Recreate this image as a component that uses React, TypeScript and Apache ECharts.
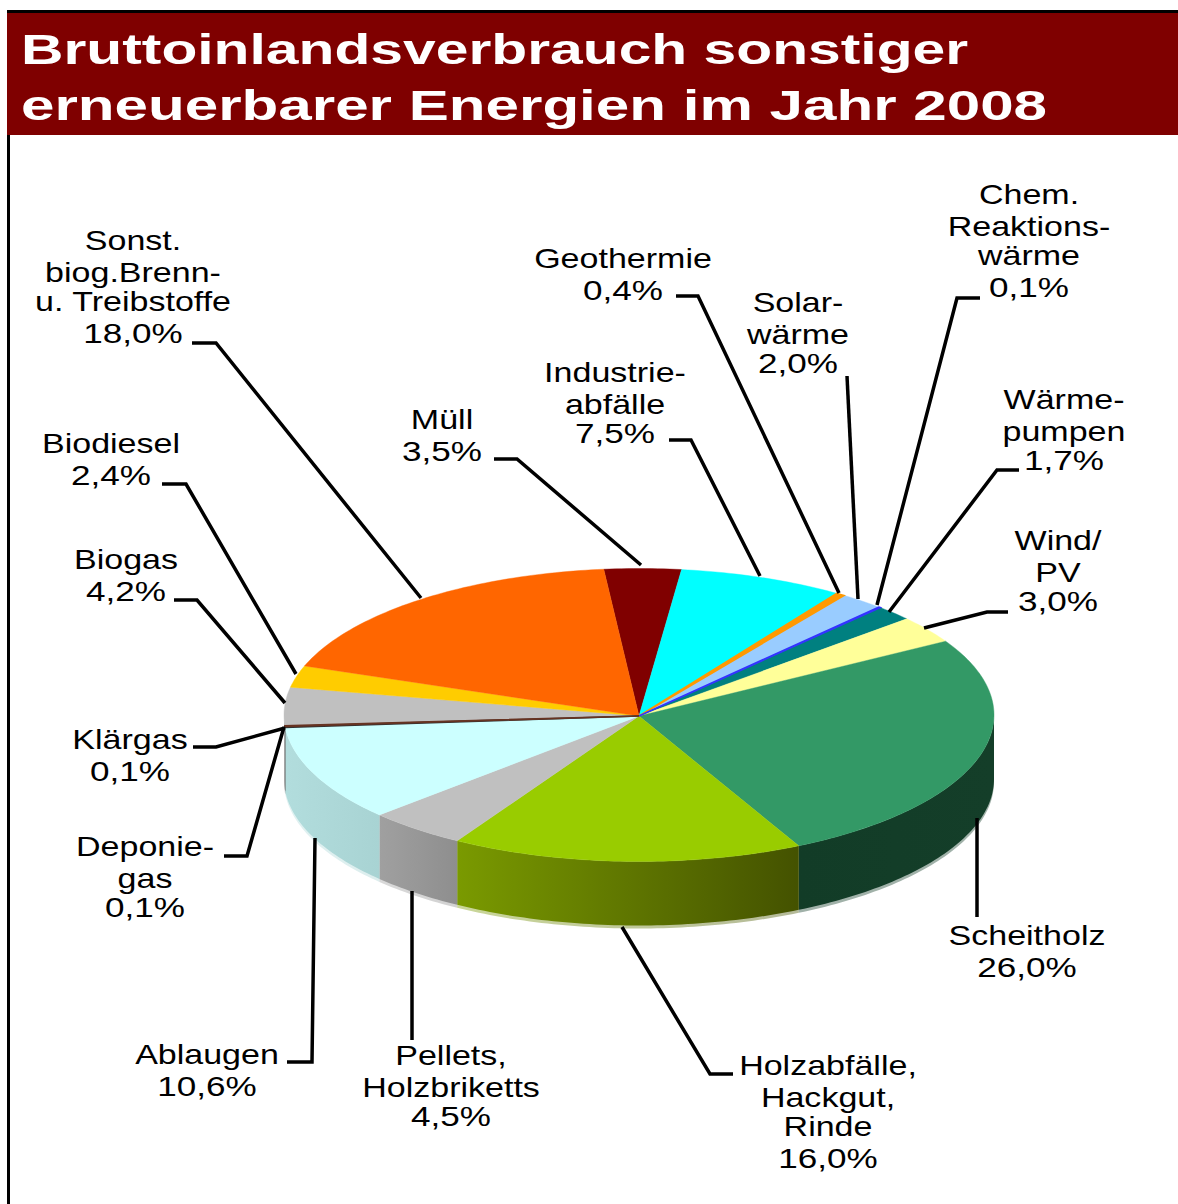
import React, { useEffect, useRef } from "react";
import * as echarts from "echarts";

const titleLines = ["Bruttoinlandsverbrauch sonstiger", "erneuerbarer Energien im Jahr 2008"];
const categories = [
  "Müll",
  "Industrie-\nabfälle",
  "Geothermie",
  "Solar-\nwärme",
  "Chem.\nReaktions-\nwärme",
  "Wärme-\npumpen",
  "Wind/\nPV",
  "Scheitholz",
  "Holzabfälle,\nHackgut,\nRinde",
  "Pellets,\nHolzbriketts",
  "Ablaugen",
  "Deponie-\ngas",
  "Klärgas",
  "Biogas",
  "Biodiesel",
  "Sonst.\nbiog.Brenn-\nu. Treibstoffe",
];
const shares = [3.5, 7.5, 0.4, 2.0, 0.1, 1.7, 3.0, 26.0, 16.0, 4.5, 10.6, 0.1, 0.1, 4.2, 2.4, 18.0];
const topColors = [
  "#800000", "#00ffff", "#ff9900", "#99ccff", "#3333ff", "#008080", "#ffff99", "#339966",
  "#99cc00", "#c0c0c0", "#ccffff", "#333333", "#663322", "#c0c0c0", "#ffcc00", "#ff6600",
];
// side wall colours, left end then right end
const sideColors: [string, string][] = [
  ["#400000", "#400000"], ["#008080", "#008080"], ["#805000", "#805000"], ["#4d6680", "#4d6680"],
  ["#1a1a80", "#1a1a80"], ["#004040", "#004040"], ["#80804d", "#80804d"], ["#123c27", "#143e29"],
  ["#7a9a00", "#445200"], ["#a0a0a0", "#8e8e8e"], ["#b2dddd", "#a8d3d3"], ["#1a1a1a", "#1a1a1a"],
  ["#331a11", "#331a11"], ["#a0a0a0", "#a0a0a0"], ["#806600", "#806600"], ["#803300", "#803300"],
];
// label anchor (centre x, first line y) and leader polyline for each category
const labelAnchors: [number, number][] = [
  [442, 420], [615, 373], [623, 259], [798, 303], [1029, 195], [1064, 400], [1058, 541], [1027, 936],
  [828, 1066], [451, 1056], [207, 1055], [145, 847], [130, 740], [126, 560], [111, 444], [133, 241],
];
const leaders: number[][][] = [
  [[494, 459], [517, 459], [641, 565]],
  [[669, 440], [691, 440], [760, 576]],
  [[676, 296], [698, 296], [839, 593]],
  [[847, 376], [858, 599]],
  [[980, 298], [957, 298], [877, 605]],
  [[1019, 470], [997, 470], [889, 612]],
  [[1008, 612], [987, 612], [924, 628]],
  [[977, 818], [977, 917]],
  [[622, 927], [710, 1074], [733, 1074]],
  [[412, 891], [412, 1040]],
  [[287, 1062], [312, 1062], [315, 838]],
  [[224, 856], [247, 856], [284, 727]],
  [[193, 747], [216, 747], [285, 728]],
  [[174, 600], [197, 600], [285, 703]],
  [[162, 484], [186, 484], [296, 674]],
  [[192, 343], [216, 343], [421, 598]],
];
const lineOffsets = [0, 32, 61, 93];
const titleScales = [1.4, 1.432];

const CX = 639;
const CY = 715;
const RX = 355;
const RY = 146.5;
const DEPTH = 64;
const START_DEG = -5.7;
const TOTAL = shares.reduce((a, b) => a + b, 0);

function sliceRange(i: number): [number, number] {
  let before = 0;
  for (let k = 0; k < i; k++) before += shares[k];
  const a0 = START_DEG + (before / TOTAL) * 360;
  return [a0, a0 + (shares[i] / TOTAL) * 360];
}
function rimPoint(deg: number, dy = 0): number[] {
  const t = (deg * Math.PI) / 180;
  return [CX + RX * Math.sin(t), CY - RY * Math.cos(t) + dy];
}
function rimArc(a0: number, a1: number, dy = 0): number[][] {
  const pts: number[][] = [];
  const n = Math.max(2, Math.ceil(Math.abs(a1 - a0)));
  for (let k = 0; k <= n; k++) pts.push(rimPoint(a0 + ((a1 - a0) * k) / n, dy));
  return pts;
}
const percent = (v: number) => v.toFixed(1).replace(".", ",") + "%";
const FONT_LABEL = '27px "Liberation Sans"';

export default function App() {
  const ref = useRef<HTMLDivElement>(null);
  useEffect(() => {
    document.body.style.margin = "0";
    const chart = echarts.init(ref.current!, undefined, { renderer: "svg" });
    const data = shares.map((v, i) => [v, i]);
    chart.setOption({
      animation: false,
      backgroundColor: "#ffffff",
      graphic: [
        { type: "rect", z: 0, shape: { x: 7, y: 10, width: 1171, height: 4 }, style: { fill: "#000000" } },
        { type: "rect", z: 0, shape: { x: 7, y: 10, width: 3, height: 1194 }, style: { fill: "#000000" } },
        { type: "rect", z: 1, shape: { x: 7, y: 13, width: 1171, height: 122 }, style: { fill: "#7f0000" } },
        ...titleLines.map((t, i) => ({
          type: "text",
          z: 2,
          x: 21,
          y: i === 0 ? 50 : 105,
          scaleX: titleScales[i],
          style: {
            text: t,
            fill: "#ffffff",
            font: 'bold 42px "Liberation Sans"',
            textAlign: "left",
            textVerticalAlign: "middle",
          },
        })),
      ],
      series: [
        {
          type: "custom",
          coordinateSystem: "none",
          silent: true,
          z: 3,
          data,
          renderItem: (_p: any, api: any) => {
            const i = api.value(1);
            const [a0, a1] = sliceRange(i);
            const from = Math.max(a0, 90);
            const to = Math.min(a1, 270);
            if (to <= from) return { type: "group", children: [] };
            const upper = rimArc(from, to);
            const fill = new echarts.graphic.LinearGradient(0, 0, 1, 0, [
              { offset: 0, color: sideColors[i][0] },
              { offset: 1, color: sideColors[i][1] },
            ]);
            return {
              type: "group",
              children: [
                {
                  type: "polygon",
                  shape: { points: [...upper, ...rimArc(to, from, DEPTH + 3)] },
                  style: { fill, opacity: 0.4 },
                },
                {
                  type: "polygon",
                  shape: { points: [...upper, ...rimArc(to, from, DEPTH)] },
                  style: { fill },
                },
              ],
            };
          },
        },
        {
          type: "custom",
          coordinateSystem: "none",
          silent: true,
          z: 4,
          data,
          renderItem: (_p: any, api: any) => {
            const i = api.value(1);
            const [a0, a1] = sliceRange(i);
            const thin = shares[i] < 0.5;
            return {
              type: "polygon",
              z2: thin ? 2 : 1,
              shape: { points: [[CX, CY + 1], ...rimArc(a0, a1)] },
              style: { fill: topColors[i], stroke: topColors[i], lineWidth: thin ? 1.5 : 0.4 },
            };
          },
        },
        {
          type: "custom",
          coordinateSystem: "none",
          silent: true,
          z: 5,
          data,
          renderItem: (_p: any, api: any) => {
            const i = api.value(1);
            const names = categories[i].split("\n");
            const lines = [...names, percent(api.value(0))];
            const [ax, ay] = labelAnchors[i];
            return {
              type: "group",
              children: [
                {
                  type: "polyline",
                  shape: { points: leaders[i] },
                  style: { fill: "none", stroke: "#000000", lineWidth: 3.5 },
                },
                ...lines.map((t, k) => ({
                  type: "text",
                  x: ax,
                  y: ay + lineOffsets[k],
                  scaleX: k === names.length ? 1.3 : 1.26,
                  style: {
                    text: t,
                    fill: "#000000",
                    font: FONT_LABEL,
                    textAlign: "center",
                    textVerticalAlign: "middle",
                  },
                })),
              ],
            };
          },
        },
      ],
    });
    return () => chart.dispose();
  }, []);
  return <div ref={ref} style={{ position: "absolute", left: 0, top: 0, width: 1178, height: 1204 }} />;
}
